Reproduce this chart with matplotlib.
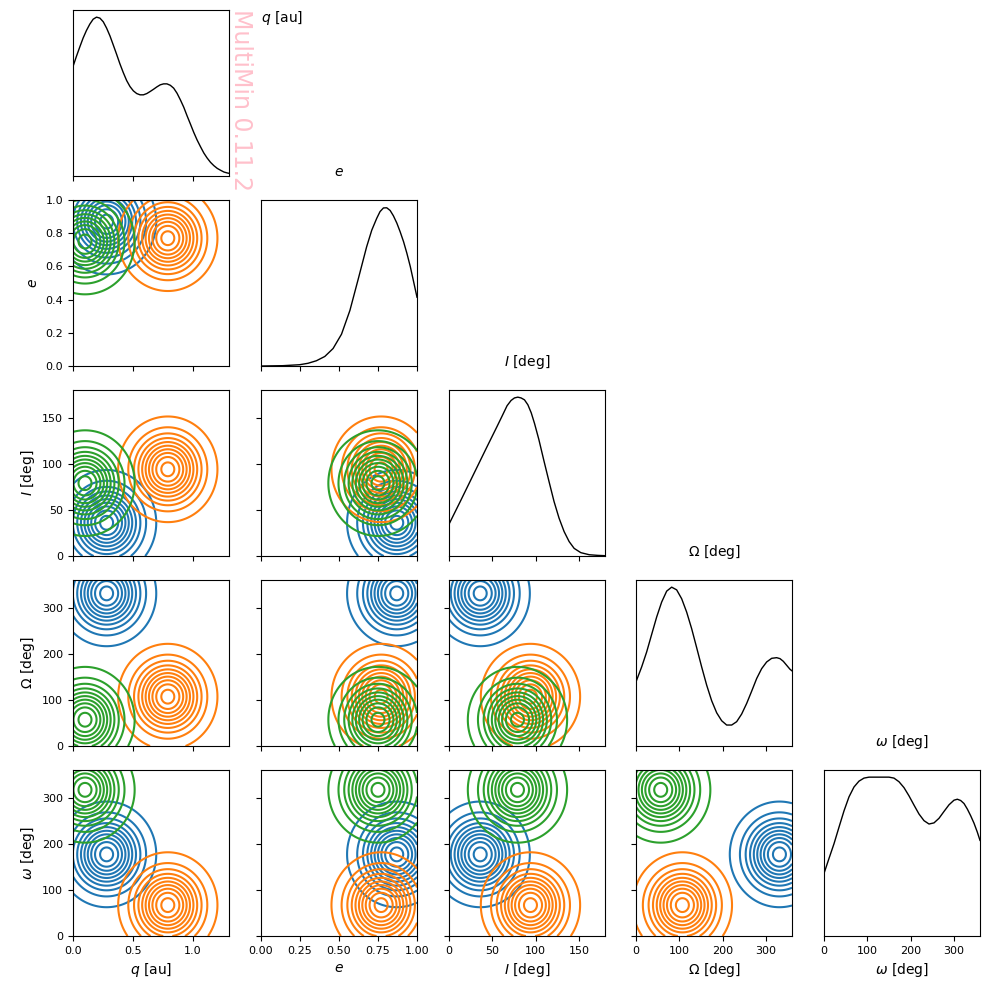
### STEP - 1
# Importing the libraries
import numpy as np
import matplotlib
matplotlib.use('Agg')
import matplotlib.pyplot as plt


### STEP - 2
# Data: parameters of the three gaussian components and the marginals
names = [r'$q$ [au]', r'$e$', r'$I$ [deg]', r'$\Omega$ [deg]', r'$\omega$ [deg]']
ranges = [(0.0, 1.3), (0.0, 1.0), (0.0, 180.0), (0.0, 360.0), (0.0, 360.0)]
ticks = [[0.0, 0.5, 1.0],
         [0.0, 0.25, 0.5, 0.75, 1.0],
         [0, 50, 100, 150],
         [0, 100, 200, 300],
         [0, 100, 200, 300]]
e_yticks = [0.0, 0.2, 0.4, 0.6, 0.8, 1.0]

means_blue = [0.28, 0.87, 36, 331, 177]
means_orange = [0.79, 0.77, 94, 107, 67]
means_green = [0.10, 0.75, 79, 57, 317]
sigma_frac = 0.13          # component width as a fraction of each range
levels = [0.05, 0.15, 0.25, 0.35, 0.45, 0.55, 0.65, 0.75, 0.85, 0.95]

# marginal densities (relative to peak)
q_x = [0, 0.028, 0.056, 0.084, 0.112, 0.140, 0.168, 0.196, 0.224, 0.252, 0.280,
       0.308, 0.335, 0.363, 0.391, 0.419, 0.447, 0.475, 0.503, 0.531, 0.559, 0.587,
       0.615, 0.643, 0.671, 0.699, 0.727, 0.755, 0.783, 0.811, 0.839, 0.867, 0.895,
       0.923, 0.950, 0.978, 1.006, 1.034, 1.062, 1.090, 1.118, 1.146, 1.174, 1.202,
       1.230, 1.258, 1.286, 1.3]
q_y = [0.689, 0.752, 0.811, 0.868, 0.916, 0.956, 0.987, 1.0, 0.994, 0.971, 0.931,
       0.882, 0.826, 0.767, 0.706, 0.651, 0.601, 0.563, 0.536, 0.519, 0.511, 0.511,
       0.519, 0.532, 0.546, 0.561, 0.574, 0.580, 0.580, 0.571, 0.553, 0.521, 0.479,
       0.433, 0.380, 0.328, 0.275, 0.227, 0.185, 0.145, 0.113, 0.086, 0.065, 0.048,
       0.036, 0.025, 0.019, 0.017]

e_x = [0, 0.14, 0.247, 0.301, 0.355, 0.409, 0.462, 0.516, 0.570, 0.624, 0.677,
       0.710, 0.742, 0.763, 0.785, 0.806, 0.828, 0.849, 0.871, 0.892, 0.914, 0.935,
       0.957, 0.978, 1.0]
e_y = [0, 0.002, 0.008, 0.017, 0.033, 0.06, 0.11, 0.20, 0.35, 0.55, 0.75,
       0.855, 0.93, 0.972, 0.995, 0.996, 0.979, 0.945, 0.899, 0.845, 0.782, 0.71,
       0.626, 0.532, 0.433]

i_x = [0, 12.8, 28.3, 43.7, 55.4, 61.2, 67.0, 71.6, 75.5, 79.4, 83.2, 87.1, 91.0,
       94.9, 98.7, 103.7, 109.5, 115.4, 121.2, 127.0, 132.8, 138.6, 144.4, 152.1,
       161.8, 171.5, 180]
i_y = [0.2, 0.341, 0.514, 0.686, 0.815, 0.88, 0.946, 0.979, 0.995, 1.0, 0.995,
       0.983, 0.952, 0.901, 0.834, 0.733, 0.6, 0.469, 0.343, 0.238, 0.154, 0.091,
       0.048, 0.021, 0.008, 0.004, 0.002]

Om_x = [0, 13.1, 24.6, 36.2, 47.7, 59.2, 70.8, 82.3, 93.8, 105.4, 116.9, 128.5,
        140.0, 151.5, 163.1, 174.6, 186.2, 197.7, 209.2, 220.8, 232.3, 243.8, 255.4,
        266.9, 278.5, 290.0, 301.5, 313.1, 324.6, 332.3, 340.0, 347.7, 355.4, 360]
Om_y = [0.404, 0.498, 0.592, 0.703, 0.812, 0.906, 0.975, 1.0, 0.983, 0.927, 0.843,
        0.738, 0.619, 0.498, 0.383, 0.285, 0.209, 0.159, 0.132, 0.132, 0.153, 0.201,
        0.268, 0.345, 0.425, 0.487, 0.529, 0.552, 0.556, 0.550, 0.533, 0.508, 0.483,
        0.473]

om_x = [0, 11.5, 23.1, 34.6, 46.2, 57.7, 69.2, 80.8, 92.3, 103.8, 115.4, 126.9,
        138.5, 150.0, 161.5, 173.1, 184.6, 196.2, 207.7, 219.2, 230.8, 242.3, 253.8,
        265.4, 276.9, 288.5, 300.0, 307.7, 315.4, 323.1, 330.8, 338.5, 346.2, 353.8,
        360]
om_y = [0.394, 0.488, 0.581, 0.685, 0.788, 0.876, 0.938, 0.975, 0.994, 1.0, 1.0,
        1.0, 1.0, 1.0, 0.994, 0.971, 0.934, 0.882, 0.824, 0.768, 0.726, 0.705, 0.712,
        0.741, 0.784, 0.826, 0.855, 0.861, 0.853, 0.834, 0.799, 0.757, 0.710, 0.654,
        0.602]

marg_x = [q_x, e_x, i_x, Om_x, om_x]
marg_y = [q_y, e_y, i_y, Om_y, om_y]

components = [(means_blue, 'tab:blue'), (means_orange, 'tab:orange'), (means_green, 'tab:green')]


### STEP - 3
# Build the corner figure
W, H = 989, 990
fig = plt.figure(figsize=(W / 100, H / 100), dpi=100)
lefts = [73, 261, 449, 636, 824]
tops = [10, 200, 390, 580, 770]
pw, ph = 156, 166
n = len(names)

for i in range(n):
    for j in range(i + 1):
        ax = fig.add_axes([lefts[j] / W, 1 - (tops[i] + ph) / H, pw / W, ph / H])
        ax.tick_params(labelsize=8)
        ax.set_xlim(ranges[j])
        ax.set_xticks(ticks[j])
        if i == j:
            # diagonal: marginal density
            ax.plot(marg_x[j], marg_y[j], color='black', lw=1)
            ax.set_ylim(0, 1.045)
            ax.set_yticks([])
            if i > 0:
                ax.set_title(names[j], fontsize=10, pad=17)
        else:
            x0, x1 = ranges[j]
            y0, y1 = ranges[i]
            gx, gy = np.meshgrid(np.linspace(x0, x1, 300), np.linspace(y0, y1, 300))
            for mu, col in components:
                dx = (gx - mu[j]) / ((x1 - x0) * sigma_frac)
                dy = (gy - mu[i]) / ((y1 - y0) * sigma_frac)
                z = np.exp(-0.5 * (dx ** 2 + dy ** 2))
                ax.contour(gx, gy, z, levels=levels, colors=col, linewidths=1.5)
            ax.set_ylim(ranges[i])
            ax.set_yticks(e_yticks if i == 1 else ticks[i])
            if j == 0:
                ax.set_ylabel(names[i], fontsize=10)
            else:
                ax.set_yticklabels([])
        if i == n - 1:
            ax.set_xlabel(names[j], fontsize=10)
        else:
            ax.set_xticklabels([])

# label of the first variable and the watermark
fig.text(261 / W, 1 - 18 / H, names[0], fontsize=10, ha='left', va='center')
fig.text(241 / W, 1 - 9 / H, 'MultiMin 0.11.2', fontsize=17, color='pink',
         rotation=-90, ha='center', va='top')

plt.savefig('out.png', dpi=100)
